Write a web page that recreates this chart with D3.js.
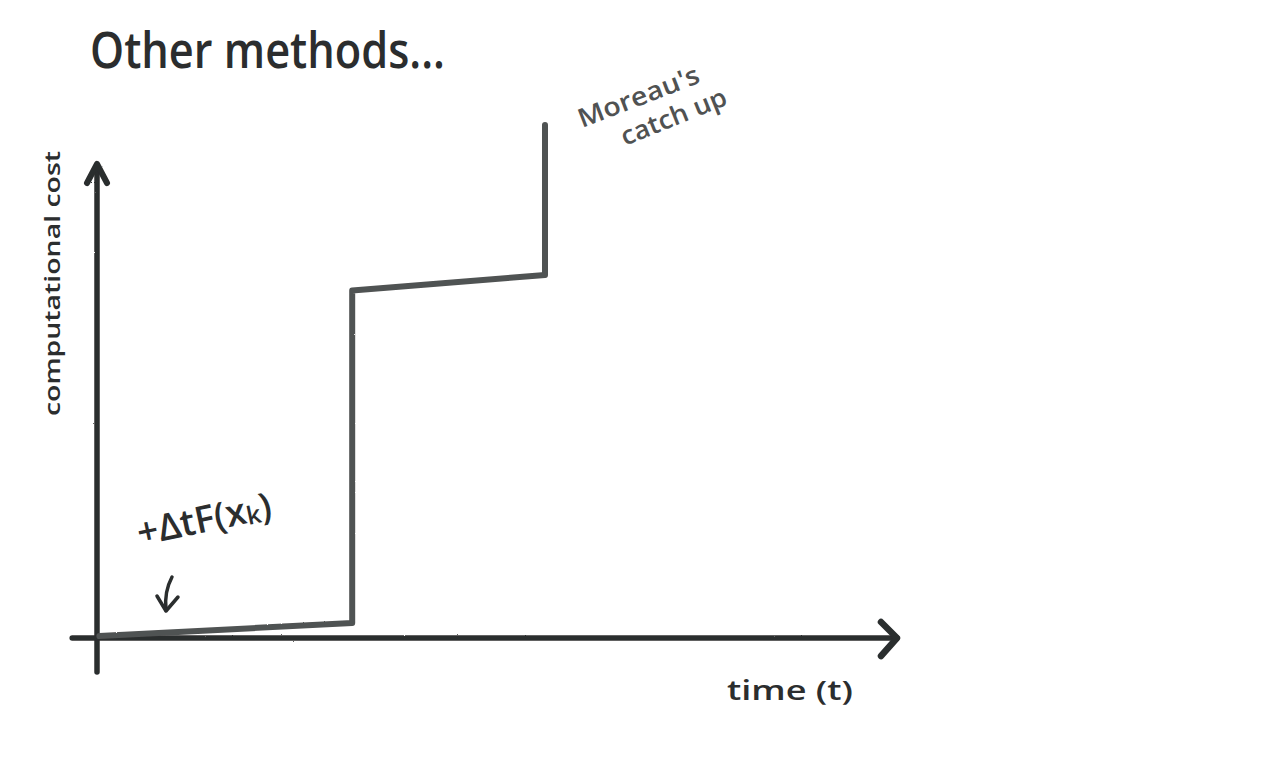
<!DOCTYPE html>
<html>
<head>
<meta charset="utf-8">
<script src="https://cdn.jsdelivr.net/npm/d3@7"></script>
<style>
html,body{margin:0;padding:0;background:#fff;}
svg{display:block;}
</style>
</head>
<body>
<svg id="chart" width="1280" height="768"></svg>
<script>
// ---- data ----
const stepTime = [0.3, 31.9, 31.9, 56.0, 56.0];
const stepCost = [0.4, 3.0, 69.5, 72.6, 102.6];
const axisTimeRange = [-3.1, 100];
const axisCostRange = [-6.8, 94.6];
const titleText = "Other methods...";
const xLabel = "time (t)";
const yLabel = "computational cost";
const noteMoreau = ["Moreau's", "catch up"];

const svg = d3.select("#chart");
const x = d3.scaleLinear().domain([0, 100]).range([97, 897]);
const y = d3.scaleLinear().domain([0, 100]).range([638, 138]);

const defs = svg.append("defs");
const f = defs.append("filter").attr("id", "rough").attr("x", "-5%").attr("y", "-5%").attr("width", "110%").attr("height", "110%");
f.append("feTurbulence").attr("type", "fractalNoise").attr("baseFrequency", 0.9).attr("numOctaves", 2).attr("result", "n");
f.append("feDisplacementMap").attr("in", "SourceGraphic").attr("in2", "n").attr("scale", 1.6);

const ink = "#2b2d2e";
const grey = "#505252";
const font = "'Open Sans', 'DejaVu Sans', sans-serif";

const g = svg.append("g").attr("filter", "url(#rough)");

// y axis
g.append("line")
  .attr("x1", x(0)).attr("x2", x(0))
  .attr("y1", y(axisCostRange[0])).attr("y2", y(axisCostRange[1]))
  .attr("stroke", ink).attr("stroke-width", 5.5).attr("stroke-linecap", "round");
g.append("path")
  .attr("d", `M${x(0) - 10},${y(axisCostRange[1]) + 18} L${x(0)},${y(axisCostRange[1]) - 1} L${x(0) + 10},${y(axisCostRange[1]) + 18}`)
  .attr("fill", "none").attr("stroke", ink).attr("stroke-width", 6)
  .attr("stroke-linecap", "round").attr("stroke-linejoin", "round");

// x axis
g.append("line")
  .attr("x1", x(axisTimeRange[0])).attr("x2", x(axisTimeRange[1]))
  .attr("y1", y(0)).attr("y2", y(0))
  .attr("stroke", ink).attr("stroke-width", 5.5).attr("stroke-linecap", "round");
g.append("path")
  .attr("d", `M${x(axisTimeRange[1]) - 16},${y(0) - 16} L${x(axisTimeRange[1])},${y(0)} L${x(axisTimeRange[1]) - 16},${y(0) + 18}`)
  .attr("fill", "none").attr("stroke", ink).attr("stroke-width", 6.5)
  .attr("stroke-linecap", "round").attr("stroke-linejoin", "round");

// step curve
const line = d3.line().x(d => x(d[0])).y(d => y(d[1]));
g.append("path")
  .datum(stepTime.map((t, i) => [t, stepCost[i]]))
  .attr("d", line)
  .attr("fill", "none").attr("stroke", grey).attr("stroke-width", 6)
  .attr("stroke-linejoin", "round").attr("stroke-linecap", "round");

// title
svg.append("text")
  .attr("x", 90).attr("y", 68)
  .attr("font-family", font).attr("font-size", 50).attr("font-weight", 600).attr("fill", ink)
  .attr("textLength", 355).attr("lengthAdjust", "spacingAndGlyphs")
  .text(titleText);

// y label
svg.append("text")
  .attr("transform", "translate(60,416) rotate(-90)")
  .attr("font-family", font).attr("font-size", 22).attr("font-weight", 600).attr("fill", ink)
  .attr("textLength", 265).attr("lengthAdjust", "spacingAndGlyphs")
  .text(yLabel);

// x label
svg.append("text")
  .attr("x", 727).attr("y", 700)
  .attr("font-family", font).attr("font-size", 27).attr("font-weight", 600).attr("fill", ink)
  .attr("textLength", 126).attr("lengthAdjust", "spacingAndGlyphs")
  .text(xLabel);

// Moreau note
svg.append("text")
  .attr("transform", "translate(582,128) rotate(-21)")
  .attr("font-family", font).attr("font-size", 26).attr("font-weight", 600).attr("fill", grey)
  .attr("textLength", 128).attr("lengthAdjust", "spacingAndGlyphs")
  .text(noteMoreau[0]);
svg.append("text")
  .attr("transform", "translate(625,146) rotate(-22)")
  .attr("font-family", font).attr("font-size", 26).attr("font-weight", 600).attr("fill", grey)
  .attr("textLength", 112).attr("lengthAdjust", "spacingAndGlyphs")
  .text(noteMoreau[1]);

// +ΔtF(x_k) note
const note = svg.append("text")
  .attr("transform", "translate(140,546) rotate(-12)")
  .attr("font-family", font).attr("font-size", 37).attr("font-weight", 600).attr("fill", ink);
note.append("tspan").text("+\u0394tF(x");
note.append("tspan").attr("font-size", 25).attr("dy", 2).text("k");
note.append("tspan").attr("dy", -2).text(")");

// small arrow pointing to the slope
g.append("path")
  .attr("d", "M172,577 Q164,592 166,610")
  .attr("fill", "none").attr("stroke", ink).attr("stroke-width", 3.5).attr("stroke-linecap", "round");
g.append("path")
  .attr("d", "M157,596 L166,611 L178,597")
  .attr("fill", "none").attr("stroke", ink).attr("stroke-width", 3.5)
  .attr("stroke-linecap", "round").attr("stroke-linejoin", "round");
</script>
</body>
</html>
